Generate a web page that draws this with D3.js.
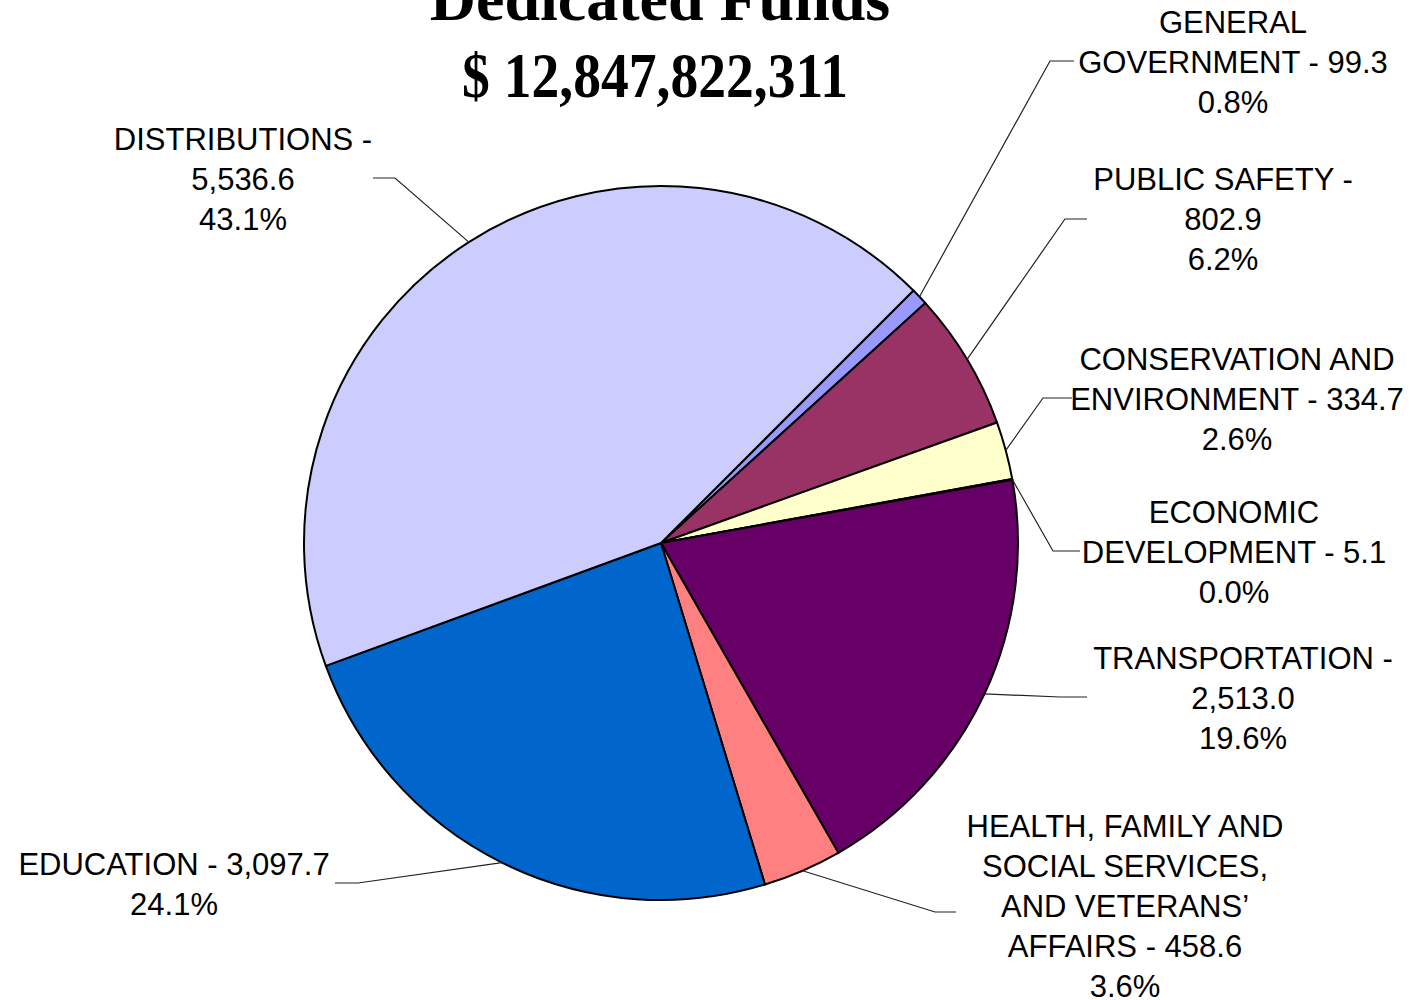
<!DOCTYPE html>
<html>
<head>
<meta charset="utf-8">
<script src="https://cdn.jsdelivr.net/npm/d3@7"></script>
<style>
  body { margin: 0; background: #fff; }
  svg text { font-family: "Liberation Sans", Arial, sans-serif; }
</style>
</head>
<body>
<div id="chart"></div>
<script>
// data, in millions
var categories = ["GENERAL GOVERNMENT", "PUBLIC SAFETY", "CONSERVATION AND ENVIRONMENT",
  "ECONOMIC DEVELOPMENT", "TRANSPORTATION",
  "HEALTH, FAMILY AND SOCIAL SERVICES, AND VETERANS\u2019 AFFAIRS", "EDUCATION", "DISTRIBUTIONS"];
var values = [99.3, 802.9, 334.7, 5.1, 2513.0, 458.6, 3097.7, 5536.6];
var colors = ["#9999FF", "#993366", "#FFFFCC", "#CCFFFF", "#660066", "#FF8080", "#0066CC", "#CCCCFF"];
// how each label is broken into lines ({v} = value, {p} = percent)
var labelLines = [
  ["GENERAL", "GOVERNMENT - {v}", "{p}"],
  ["PUBLIC SAFETY -", "{v}", "{p}"],
  ["CONSERVATION AND", "ENVIRONMENT - {v}", "{p}"],
  ["ECONOMIC", "DEVELOPMENT - {v}", "{p}"],
  ["TRANSPORTATION -", "{v}", "{p}"],
  ["HEALTH, FAMILY AND", "SOCIAL SERVICES,", "AND VETERANS\u2019", "AFFAIRS - {v}", "{p}"],
  ["EDUCATION - {v}", "{p}"],
  ["DISTRIBUTIONS -", "{v}", "{p}"]
];
var titleLines = ["Dedicated Funds", "$ 12,847,822,311"];

var width = 1410, height = 1000;
var cx = 661, cy = 543, radius = 357;

// label placement: text centre x, first baseline y, leader elbow, leader end
var labelPos = [
  {x: 1233, y: 33,  elbow: [1050, 61],  end: [1074, 61]},
  {x: 1223, y: 190, elbow: [1065, 219], end: [1087, 219]},
  {x: 1237, y: 370, elbow: [1043, 398], end: [1072, 398]},
  {x: 1234, y: 523, elbow: [1053, 551], end: [1080, 551]},
  {x: 1243, y: 669, elbow: [1060, 697], end: [1087, 697]},
  {x: 1125, y: 837, elbow: [935, 912],  end: [956, 912]},
  {x: 174,  y: 875, elbow: [358, 883],  end: [335, 883]},
  {x: 243,  y: 150, elbow: [395, 178],  end: [373, 178]}
];

var total = d3.sum(values);
var fmtVal = d3.format(",.1f");
var fmtPct = d3.format(".1%");

var svg = d3.select("#chart").append("svg")
  .attr("width", width).attr("height", height);

// title (top line is partly cut off in the original)
svg.append("text")
  .attr("x", 660).attr("y", 20)
  .attr("text-anchor", "middle")
  .style("font-family", "'Liberation Serif', 'Times New Roman', serif")
  .style("font-weight", "bold").style("font-size", "64px")
  .text(titleLines[0]);
svg.append("text")
  .attr("x", 655).attr("y", 97)
  .attr("text-anchor", "middle")
  .attr("textLength", 386).attr("lengthAdjust", "spacingAndGlyphs")
  .style("font-family", "'Liberation Serif', 'Times New Roman', serif")
  .style("font-weight", "bold").style("font-size", "63px")
  .text(titleLines[1]);

var pie = d3.pie().value(function(d){ return d; }).sort(null)
  .startAngle(Math.PI / 4).endAngle(Math.PI / 4 + 2 * Math.PI);
var arc = d3.arc().innerRadius(0).outerRadius(radius);
var edgeArc = d3.arc().innerRadius(radius).outerRadius(radius);

var arcs = pie(values);

var g = svg.append("g").attr("transform", "translate(" + cx + "," + cy + ")");

g.selectAll("path.slice")
  .data(arcs)
  .enter().append("path")
    .attr("class", "slice")
    .attr("d", arc)
    .attr("fill", function(d, i){ return colors[i]; })
    .attr("stroke", "#000")
    .attr("stroke-width", 2)
    .attr("stroke-linejoin", "round");

// leader lines
svg.selectAll("path.leader")
  .data(arcs)
  .enter().append("path")
    .attr("class", "leader")
    .attr("fill", "none")
    .attr("stroke", "#222")
    .attr("stroke-width", 1.2)
    .attr("d", function(d, i){
      var c = edgeArc.centroid(d);
      var p = labelPos[i];
      return "M" + (cx + c[0]) + "," + (cy + c[1]) +
        "L" + p.elbow[0] + "," + p.elbow[1] +
        "L" + p.end[0] + "," + p.end[1];
    });

// labels
var labels = svg.selectAll("text.lbl")
  .data(arcs)
  .enter().append("text")
    .attr("class", "lbl")
    .attr("text-anchor", "middle")
    .style("font-size", "31px")
    .attr("fill", "#000");

labels.each(function(d, i){
  var t = d3.select(this);
  var p = labelPos[i];
  labelLines[i].forEach(function(line, k){
    var s = line.replace("{v}", fmtVal(values[i])).replace("{p}", fmtPct(values[i] / total));
    t.append("tspan")
      .attr("x", p.x)
      .attr("y", p.y + k * 40)
      .text(s);
  });
});
</script>
</body>
</html>
